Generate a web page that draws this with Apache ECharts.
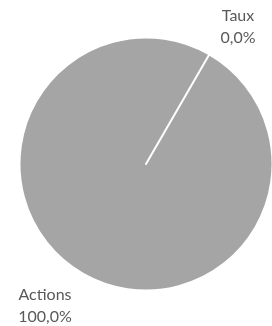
<!DOCTYPE html>
<html><head><meta charset="utf-8">
<script src="https://cdn.jsdelivr.net/npm/echarts@6/dist/echarts.min.js"></script>
<style>html,body{margin:0;padding:0;background:#fff}#c{width:272px;height:326px}</style>
</head><body><div id="c"></div>
<script>
var categories = ['Actions', 'Taux'];
var values = [100, 0];

var total = values.reduce(function(a,b){return a+b;},0);
function pct(v){ return (total ? v/total*100 : 0).toFixed(1).replace('.', ',') + '%'; }
var labelPos = { 'Actions': [45, 306], 'Taux': [238, 27] };

var chart = echarts.init(document.getElementById('c'), null, {renderer:'canvas'});
chart.setOption({
  animation: false,
  backgroundColor: '#ffffff',
  series: [{
    type: 'pie',
    center: [146, 164],
    radius: 126.5,
    startAngle: 60,
    clockwise: true,
    avoidLabelOverlap: false,
    data: categories.map(function(n,i){ return {name:n, value:values[i]}; }),
    itemStyle: { color: '#a5a5a5', borderColor: '#ffffff', borderWidth: 2 },
    label: {
      show: true, position: 'outside',
      fontFamily: 'Lato', fontSize: 16, color: '#595959', lineHeight: 22, align: 'center',
      formatter: function(p){ return p.name + '\n' + pct(p.value); }
    },
    labelLine: { show: false },
    labelLayout: function(p){
      var pos = labelPos[categories[p.dataIndex]];
      return { x: pos[0], y: pos[1], align: 'center', verticalAlign: 'middle' };
    },
    emphasis: { disabled: true }
  }]
});
</script></body></html>
